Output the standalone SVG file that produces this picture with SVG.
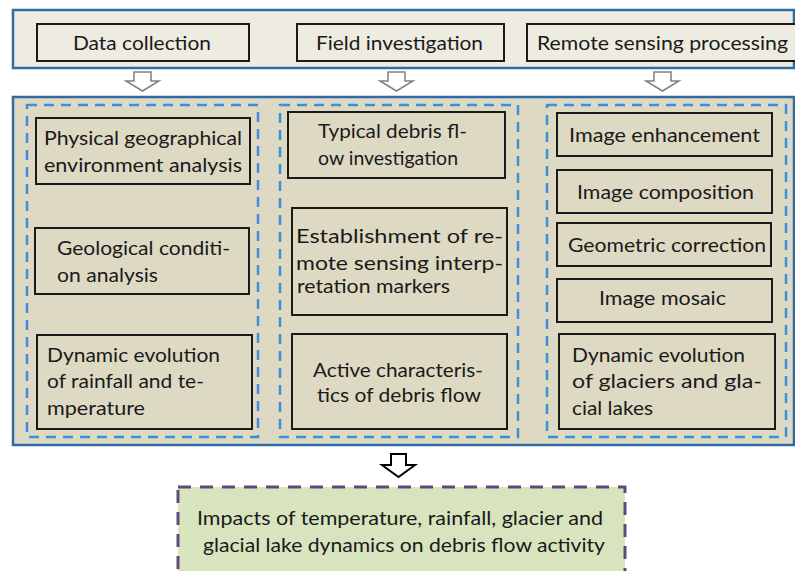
<svg xmlns="http://www.w3.org/2000/svg" width="795" height="571" viewBox="0 0 795 571">
  <defs>
    <style>
      .panel-top { fill: #eeece1; stroke: #2f6ca3; stroke-width: 2.5; }
      .panel-mid { fill: #ddd9c3; stroke: #2f6ca3; stroke-width: 2.5; }
      .group { fill: none; stroke: #3d8fd9; stroke-width: 2.5; stroke-dasharray: 10 7; }
      .head { fill: #eeece1; stroke: #1a1a1a; stroke-width: 2; }
      .box { fill: #ddd9c3; stroke: #1a1a1a; stroke-width: 2; }
      .result { fill: #d7e4bd; stroke: #604a7b; stroke-width: 3; stroke-dasharray: 13 9; }
      .flow-grey { fill: #ffffff; stroke: #808080; stroke-width: 1.5; }
      .flow-black { fill: #ffffff; stroke: #000000; stroke-width: 2; }
      text { font-family: Lato, "Open Sans", "Liberation Sans", sans-serif; font-size: 20px; fill: #1a1a1a; }
    </style>
  </defs>

  <rect width="795" height="571" fill="#ffffff"/>

  <!-- stage panels -->
  <rect class="panel-top" x="13" y="10" width="781" height="58"/>
  <rect class="panel-mid" x="13" y="97" width="781" height="348"/>

  <!-- stage headings -->
  <g id="data-collection">
    <rect class="head" x="37" y="24" width="212" height="37"/>
    <text x="73" y="50" textLength="138" lengthAdjust="spacingAndGlyphs">Data collection</text>
  </g>
  <g id="field-investigation">
    <rect class="head" x="297" y="24" width="207" height="37"/>
    <text x="316" y="50" textLength="167" lengthAdjust="spacingAndGlyphs">Field investigation</text>
  </g>
  <g id="remote-sensing-processing">
    <rect class="head" x="527" y="24" width="280" height="37"/>
    <text x="537" y="50" textLength="251" lengthAdjust="spacingAndGlyphs">Remote sensing processing</text>
  </g>

  <!-- dashed column groups -->
  <g id="column-groups">
    <rect class="group" x="27" y="105" width="231" height="332"/>
    <rect class="group" x="280" y="105" width="238" height="332"/>
    <rect class="group" x="547" y="105" width="239" height="332"/>
  </g>

  <!-- data collection column -->
  <g id="physical-geography">
    <rect class="box" x="36" y="118" width="214" height="66"/>
    <text x="44" y="145" textLength="198" lengthAdjust="spacingAndGlyphs">Physical geographical</text>
    <text x="44" y="172" textLength="198" lengthAdjust="spacingAndGlyphs">environment analysis</text>
  </g>
  <g id="geological-condition">
    <rect class="box" x="35" y="228" width="214" height="66"/>
    <text x="57" y="255" textLength="173" lengthAdjust="spacingAndGlyphs">Geological conditi-</text>
    <text x="57" y="282" textLength="101" lengthAdjust="spacingAndGlyphs">on analysis</text>
  </g>
  <g id="rainfall-temperature">
    <rect class="box" x="37" y="335" width="215" height="94"/>
    <text x="47" y="362" textLength="173" lengthAdjust="spacingAndGlyphs">Dynamic evolution</text>
    <text x="47" y="388" textLength="157" lengthAdjust="spacingAndGlyphs">of rainfall and te-</text>
    <text x="47" y="415" textLength="98" lengthAdjust="spacingAndGlyphs">mperature</text>
  </g>

  <!-- field investigation column -->
  <g id="typical-debris-flow">
    <rect class="box" x="288" y="112" width="217" height="66"/>
    <text x="318" y="138" textLength="149" lengthAdjust="spacingAndGlyphs">Typical debris fl-</text>
    <text x="318" y="165" textLength="140" lengthAdjust="spacingAndGlyphs">ow investigation</text>
  </g>
  <g id="interpretation-markers">
    <rect class="box" x="292" y="208" width="215" height="107"/>
    <text x="296" y="243" textLength="207" lengthAdjust="spacingAndGlyphs">Establishment of re-</text>
    <text x="296" y="270" textLength="207" lengthAdjust="spacingAndGlyphs">mote sensing interp-</text>
    <text x="297" y="293" textLength="153" lengthAdjust="spacingAndGlyphs">retation markers</text>
  </g>
  <g id="active-characteristics">
    <rect class="box" x="292" y="334" width="215" height="95"/>
    <text x="313" y="377" textLength="170" lengthAdjust="spacingAndGlyphs">Active characteris-</text>
    <text x="317" y="402" textLength="164" lengthAdjust="spacingAndGlyphs">tics of debris flow</text>
  </g>

  <!-- remote sensing column -->
  <g id="image-enhancement">
    <rect class="box" x="557" y="113" width="215" height="43"/>
    <text x="569" y="142" textLength="191" lengthAdjust="spacingAndGlyphs">Image enhancement</text>
  </g>
  <g id="image-composition">
    <rect class="box" x="557" y="170" width="215" height="43"/>
    <text x="577" y="199" textLength="177" lengthAdjust="spacingAndGlyphs">Image composition</text>
  </g>
  <g id="geometric-correction">
    <rect class="box" x="557" y="223" width="214" height="43"/>
    <text x="568" y="252" textLength="198" lengthAdjust="spacingAndGlyphs">Geometric correction</text>
  </g>
  <g id="image-mosaic">
    <rect class="box" x="557" y="279" width="215" height="43"/>
    <text x="599" y="305" textLength="127" lengthAdjust="spacingAndGlyphs">Image mosaic</text>
  </g>
  <g id="glaciers-glacial-lakes">
    <rect class="box" x="559" y="334" width="216" height="95"/>
    <text x="572" y="362" textLength="173" lengthAdjust="spacingAndGlyphs">Dynamic evolution</text>
    <text x="572" y="388" textLength="190" lengthAdjust="spacingAndGlyphs">of glaciers and gla-</text>
    <text x="572" y="415" textLength="81" lengthAdjust="spacingAndGlyphs">cial lakes</text>
  </g>

  <!-- outcome -->
  <g id="impacts">
    <rect class="result" x="178" y="487" width="447" height="100"/>
    <text x="197" y="525" textLength="406" lengthAdjust="spacingAndGlyphs">Impacts of temperature, rainfall, glacier and</text>
    <text x="203" y="552" textLength="402" lengthAdjust="spacingAndGlyphs">glacial lake dynamics on debris flow activity</text>
  </g>

  <!-- block arrows between stages -->
  <g id="connectors">
    <path class="flow-grey" d="M134 72 H151 V81 H159 L142.5 91 L126 81 H134 Z"/>
    <path class="flow-grey" d="M388 72 H405 V81 H413 L396.5 91 L380 81 H388 Z"/>
    <path class="flow-grey" d="M654 72 H671 V81 H679 L662.5 91 L646 81 H654 Z"/>
    <path class="flow-black" d="M391 454 H406 V465 H415 L398.5 477 L382 465 H391 Z"/>
  </g>
</svg>
